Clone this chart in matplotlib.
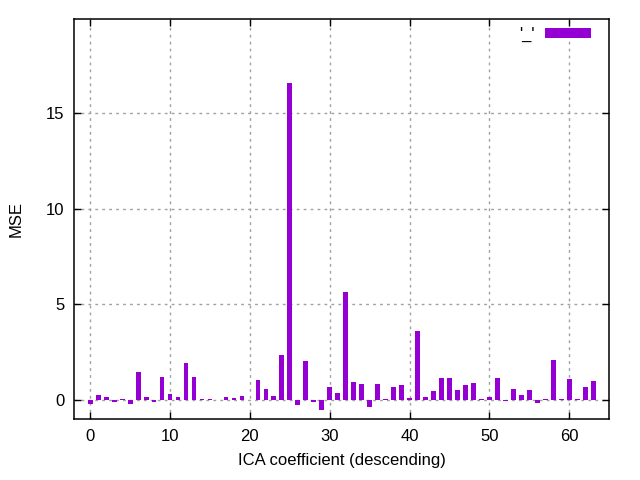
import matplotlib
matplotlib.use("Agg")
import matplotlib.pyplot as plt
import numpy as np

plt.rcParams['font.family'] = ['Liberation Sans', 'DejaVu Sans']

idx = np.arange(64)
mse = [-0.20, 0.27, 0.17, -0.12, 0.05, -0.20, 1.47, 0.17, -0.12, 1.21,
       0.33, 0.17, 1.94, 1.21, 0.03, 0.07, 0.02, 0.17, 0.08, 0.22,
       0.02, 1.05, 0.59, 0.22, 2.36, 16.55, -0.24, 2.05, -0.12, -0.55,
       0.69, 0.38, 5.63, 0.95, 0.85, -0.35, 0.85, 0.03, 0.69, 0.79,
       0.08, 3.60, 0.17, 0.48, 1.16, 1.16, 0.54, 0.79, 0.90, 0.03,
       0.17, 1.16, -0.07, 0.59, 0.28, 0.54, -0.17, 0.03, 2.10, 0.03,
       1.11, 0.03, 0.69, 1.00]
xticks = [0, 10, 20, 30, 40, 50, 60]
yticks = [0, 5, 10, 15]

fig = plt.figure(figsize=(6.4, 4.8), dpi=100)
ax = fig.add_axes([0.116, 0.127, 0.836, 0.833])

ax.bar(idx, mse, width=0.6, color='#9400D3', label="'_'", zorder=3)

ax.set_xlim(-2, 65)
ax.set_ylim(-1, 19.9)
ax.set_xticks(xticks)
ax.set_yticks(yticks)
ax.grid(True, color='#a0a0a0', linestyle=(0, (2, 3)), linewidth=1, zorder=0)
ax.tick_params(direction='in', length=5, top=True, right=True,
               labelsize=12, pad=7, width=1)
for s in ax.spines.values():
    s.set_linewidth(1.1)

ax.set_xlabel('ICA coefficient (descending)', fontsize=12, labelpad=7)
ax.set_ylabel('MSE', fontsize=12, labelpad=16)

leg = ax.legend(loc='upper right', frameon=False, fontsize=12,
                handlelength=2.8, handleheight=0.6, handletextpad=0.6,
                markerfirst=False, borderaxespad=0.3,
                bbox_to_anchor=(0.988, 1.01))

fig.savefig('out.png')
